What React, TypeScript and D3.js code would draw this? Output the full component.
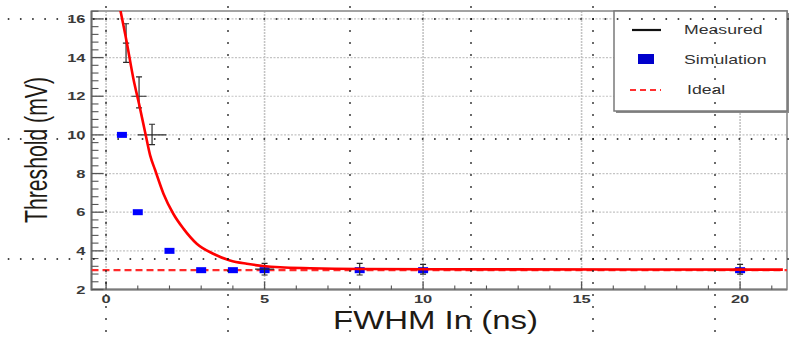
import React from "react";
import * as d3 from "d3";

// ---- data ----
const simX = [0.5, 1, 2, 3, 4, 5, 8, 10, 20];
const simY = [10, 6, 4, 3, 3, 3, 3, 3, 3];

const measX = [0.63, 1.04, 1.45, 5, 8, 10, 20];
const measY = [14.75, 12, 10, 3.05, 3.05, 3.05, 3.05];
const measYErrLow = [1.0, 0.6, 0.5, 0.3, 0.3, 0.25, 0.25];
const measYErrHigh = [1.0, 1.0, 0.55, 0.3, 0.3, 0.25, 0.25];
const measXErr = [0.1, 0.24, 0.45, 0.3, 0.25, 0.2, 0.2];

const fitX = [0.42, 0.65, 0.86, 1.05, 1.23, 1.39, 1.55, 1.81, 2.12, 2.44, 2.86, 3.38, 3.91, 4.44, 4.96, 5.49, 6.44, 8, 12, 21.35];
const fitY = [16.7, 14.81, 12.92, 11.53, 10.15, 8.94, 8.17, 6.96, 5.92, 5.15, 4.37, 3.85, 3.5, 3.33, 3.22, 3.15, 3.1, 3.06, 3.04, 3.03];

const idealLevel = 3.0;

const xMajorTicks = [0, 5, 10, 15, 20];
const yMajorTicks = [2, 4, 6, 8, 10, 12, 14, 16];

const legendLabels = ["Measured", "Simulation", "Ideal"];

const W = 795;
const H = 339;

export default function App() {
  const x = d3.scaleLinear().domain([-0.46, 21.48]).range([91.5, 787]);
  const y = d3.scaleLinear().domain([2, 16.41]).range([289.5, 11]);
  const [x0, x1] = x.range();
  const [yb, yt] = y.range();

  const xMinor = d3.range(0, 21.5, 1).filter((v) => v >= x.domain()[0] && v <= x.domain()[1] && v % 5 !== 0);
  const yMinor = d3.range(2, 16.41, 0.4).filter((v) => Math.abs(v / 2 - Math.round(v / 2)) > 1e-6);

  const fitLine = d3
    .line<number>()
    .x((_, i) => x(fitX[i]))
    .y((_, i) => y(fitY[i]))
    .curve(d3.curveMonotoneX);

  // overlay dotted "page" grid artifacts
  const overlayV = [106, 228, 350, 471, 593, 715];
  const overlayH = [19, 139, 259];
  const dots: [number, number][] = [];
  overlayV.forEach((vx) => {
    for (let k = -1; k < 28; k++) dots.push([vx, 19 + k * 12]);
  });
  overlayH.forEach((hy) => {
    for (let k = -8; k < 58; k++) dots.push([106 + k * 12.18, hy]);
  });

  const tickFont = "'Liberation Sans', Arial, sans-serif";

  return (
    <svg
      width={W}
      height={H}
      style={{ position: "absolute", left: 0, top: 0, background: "#fff" }}
      xmlns="http://www.w3.org/2000/svg"
    >
      <defs>
        <clipPath id="plotclip">
          <rect x={x0} y={yt} width={x1 - x0} height={yb - yt} />
        </clipPath>
        <filter id="soft" filterUnits="userSpaceOnUse" x="0" y="0" width={W} height={H}>
          <feGaussianBlur stdDeviation="0.45" />
        </filter>
      </defs>
      <rect x={0} y={0} width={W} height={H} fill="#fff" />

      {/* grid */}
      <g>
        {yMajorTicks.map((v) => (
          <line key={"gy" + v} x1={x0} x2={x1} y1={y(v)} y2={y(v)} stroke="#c4c4c4" strokeWidth={1.2} strokeDasharray="2,1.5" />
        ))}
        {xMajorTicks.map((v) => (
          <line key={"gx" + v} x1={x(v)} x2={x(v)} y1={yt} y2={yb} stroke="#c4c4c4" strokeWidth={1.6} strokeDasharray="2,1" />
        ))}
      </g>

      {/* frame */}
      <rect x={x0} y={yt} width={x1 - x0} height={yb - yt} fill="none" stroke="#9a9a9a" strokeWidth={1.8} />
      <line x1={x0} x2={x0} y1={yt} y2={yb + 1} stroke="#6a6a6a" strokeWidth={1.8} />
      <line x1={x0} x2={x1} y1={yb} y2={yb} stroke="#7a7a7a" strokeWidth={1.8} />

      {/* y ticks */}
      {yMajorTicks.map((v) => (
        <line key={"ty" + v} x1={x0} x2={x0 + 12} y1={y(v)} y2={y(v)} stroke="#555" strokeWidth={1.3} />
      ))}
      {yMinor.map((v) => (
        <line key={"tym" + v} x1={x0} x2={x0 + 7} y1={y(v)} y2={y(v)} stroke="#555" strokeWidth={1.1} />
      ))}
      {/* x ticks */}
      {xMajorTicks.map((v) => (
        <line key={"tx" + v} x1={x(v)} x2={x(v)} y1={yb} y2={yb - 8} stroke="#555" strokeWidth={1.3} />
      ))}
      {xMinor.map((v) => (
        <line key={"txm" + v} x1={x(v)} x2={x(v)} y1={yb} y2={yb - 4} stroke="#555" strokeWidth={1.1} />
      ))}

      {/* tick labels */}
      {yMajorTicks.map((v) => (
        <text
          key={"ly" + v}
          transform={`translate(${x0 - 6},${y(v) + 4}) scale(1.5,1)`}
          textAnchor="end"
          fontFamily={tickFont}
          fontWeight="bold"
          fontSize={11}
          fill="#3a3a3a"
        >
          {v}
        </text>
      ))}
      {xMajorTicks.map((v) => (
        <text
          key={"lx" + v}
          transform={`translate(${x(v)},${yb + 13.5}) scale(1.5,1)`}
          textAnchor="middle"
          fontFamily={tickFont}
          fontWeight="bold"
          fontSize={11}
          fill="#3a3a3a"
        >
          {v}
        </text>
      ))}

      {/* axis titles */}
      <text
        x={435.5}
        y={329}
        textAnchor="middle"
        fontFamily={tickFont}
        fontSize={26}
        fill="#1e1a14"
        textLength={205}
        lengthAdjust="spacingAndGlyphs"
      >
        FWHM In (ns)
      </text>
      <text
        transform={`translate(47,150) rotate(-90)`}
        textAnchor="middle"
        fontFamily={tickFont}
        fontSize={32}
        fill="#1e1a14"
        textLength={146}
        lengthAdjust="spacingAndGlyphs"
      >
        Threshold (mV)
      </text>

      <g clipPath="url(#plotclip)">
        {/* ideal */}
        <line
          x1={x0}
          x2={x1}
          y1={y(idealLevel)}
          y2={y(idealLevel)}
          stroke="#ff2a2a"
          strokeWidth={2.2}
          strokeDasharray="7,4"
        />
        {/* simulation */}
        {simX.map((v, i) => (
          <rect
            key={"s" + i}
            x={x(v) - 5}
            y={y(simY[i]) - 3}
            width={10}
            height={6}
            fill="#0000ff"
            filter="url(#soft)"
          />
        ))}
        {/* measured */}
        {measX.map((v, i) => {
          const cx = x(v);
          const cy = y(measY[i]);
          const ylo = y(measY[i] - measYErrLow[i]);
          const yhi = y(measY[i] + measYErrHigh[i]);
          return (
            <g key={"m" + i} stroke="#2a2a2a" strokeWidth={1.2}>
              <line x1={cx} x2={cx} y1={yhi} y2={ylo} />
              <line x1={cx - 3} x2={cx + 3} y1={yhi} y2={yhi} />
              <line x1={cx - 3} x2={cx + 3} y1={ylo} y2={ylo} />
              <line x1={x(v - measXErr[i])} x2={x(v + measXErr[i])} y1={cy} y2={cy} />
            </g>
          );
        })}
        {/* fit */}
        <path d={fitLine(fitX) || ""} fill="none" stroke="#ff0000" strokeWidth={2.6} filter="url(#soft)" />
      </g>

      {/* legend */}
      <g>
        <rect x={616} y={13} width={173} height={100} fill="#8a8a8a" />
        <rect x={614} y={11} width={173} height={100} fill="#fff" stroke="#7a7a7a" strokeWidth={1.5} />
        <line x1={632} x2={661} y1={30} y2={30} stroke="#111" strokeWidth={2.2} />
        <rect x={638} y={54} width={16} height={10} fill="#0000cc" filter="url(#soft)" />
        <line x1={630} x2={661} y1={90} y2={90} stroke="#ff3030" strokeWidth={2.2} strokeDasharray="6,4" />
        {legendLabels.map((t, i) => (
          <text
            key={t}
            transform={`translate(${i === 2 ? 687 : 684},${[34, 64, 94][i]}) scale(1.36,1)`}
            fontFamily={tickFont}
            fontSize={13}
            fill="#333"
          >
            {t}
          </text>
        ))}
      </g>

      {/* dotted overlay */}
      <g fill="#1a1a1a">
        {dots.map(([dx, dy], i) => (
          <rect key={"d" + i} x={dx - 0.8} y={dy - 0.8} width={1.6} height={1.6} />
        ))}
      </g>
    </svg>
  );
}
